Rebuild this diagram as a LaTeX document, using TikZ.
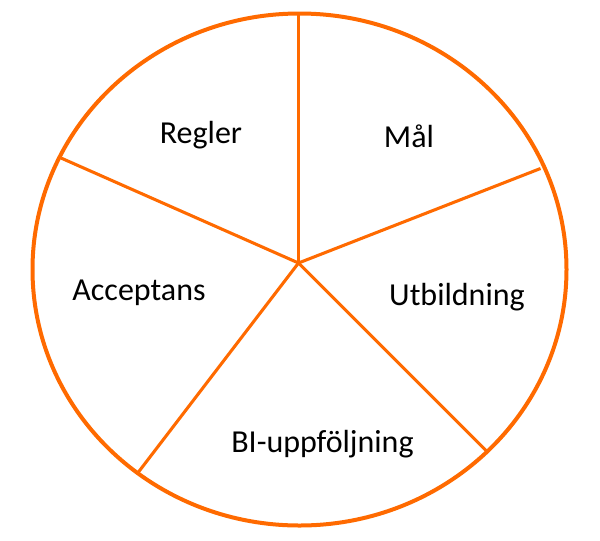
\documentclass[tikz,border=0pt]{standalone}
\usepackage{fontspec}
\setmainfont{Carlito}
\usepackage{xcolor}
\usepackage{tikz}
\definecolor{wheelorange}{HTML}{FF6A00}

\begin{document}
\begin{tikzpicture}[x=0.75pt, y=-0.75pt,
		rim/.style={draw=wheelorange, line width=3pt},
		spoke/.style={draw=wheelorange, line width=2.3pt},
		lbl/.style={anchor=base, inner sep=0pt, font=\fontsize{24}{28}\selectfont}]
		\useasboundingbox (0,0) rectangle (600,540);
		\coordinate (hub) at (298.5,263);
		\coordinate (top) at (298.5,14);
		\coordinate (ur) at (540.5,168.5);
		\coordinate (lr) at (486,450.5);
		\coordinate (ll) at (138.5,472);
		\coordinate (ul) at (61,158);
		\draw[rim] (299.5,269.5) ellipse [x radius=267, y radius=256];
		\foreach \p in {top,ur,lr,ll,ul}
			\draw[spoke] (hub) -- (\p);
		\node[lbl] (regler) at (201,143.5) {Regler};
		\node[lbl] (mal) at (409,147.5) {Mål};
		\node[lbl] (utb) at (457,305) {Utbildning};
		\node[lbl] (bi) at (322.5,452) {BI-uppföljning};
		\node[lbl] (acc) at (139,300) {Acceptans};
	\end{tikzpicture}
\end{document}
